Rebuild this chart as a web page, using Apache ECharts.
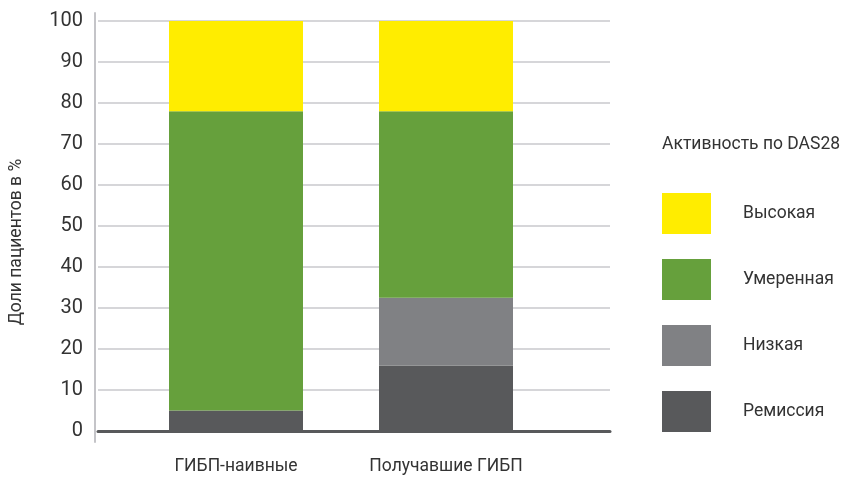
<!DOCTYPE html>
<html>
<head>
<meta charset="utf-8">
<script src="https://cdn.jsdelivr.net/npm/echarts@6/dist/echarts.min.js"></script>
<style>
  html, body { margin: 0; padding: 0; background: #fff; }
  #chart { width: 848px; height: 478px; }
</style>
</head>
<body>
<div id="chart"></div>
<script>
const categories = ['ГИБП-наивные', 'Получавшие ГИБП']
const remission = [5, 16]
const low = [0, 16.5]
const moderate = [73, 45.5]
const high = [22, 22]
const legendOrder = ['Высокая', 'Умеренная', 'Низкая', 'Ремиссия']

const font = 'Roboto, "Noto Sans", sans-serif'
const myChart = echarts.init(document.getElementById('chart'))

function bar(name, data, color) {
  return {
    name: name,
    type: 'bar',
    stack: 'das',
    xAxisIndex: 2,
    yAxisIndex: 2,
    barWidth: 134,
    itemStyle: { color: color },
    data: data
  }
}

myChart.setOption({
  animation: false,
  textStyle: { fontFamily: font },
  title: {
    text: 'Активность по DAS28',
    left: 657,
    top: 131,
    textStyle: { fontSize: 17.5, fontWeight: 'normal', color: '#333', fontFamily: font }
  },
  legend: {
    data: legendOrder,
    orient: 'vertical',
    left: 657,
    top: 188,
    icon: 'rect',
    itemWidth: 49,
    itemHeight: 41,
    itemGap: 25,
    selectedMode: false,
    textStyle: { fontSize: 17.5, color: '#333', padding: [0, 0, 0, 27], fontFamily: font }
  },
  grid: [
    // axis line only (extends a bit beyond 0..100)
    { left: 95, top: 13, width: 513, height: 429 },
    // value grid: labels, gridlines, x axis line
    { left: 90, top: 21, width: 520, height: 410 },
    // bars
    { left: 131, top: 21, width: 420, height: 410 }
  ],
  xAxis: [
    { gridIndex: 0, type: 'value', show: false },
    {
      gridIndex: 1, type: 'category', data: [''],
      axisLine: { lineStyle: { color: '#58595b', width: 3 } },
      axisTick: { show: false },
      axisLabel: { show: false }
    },
    {
      gridIndex: 2, type: 'category', data: categories,
      axisLine: { show: false },
      axisTick: { show: false },
      axisLabel: { fontSize: 17.5, color: '#333', margin: 27, fontFamily: font }
    }
  ],
  yAxis: [
    {
      gridIndex: 0, type: 'value', min: 0, max: 1,
      axisLine: { show: true, lineStyle: { color: '#c4c4c8', width: 2 } },
      axisTick: { show: false },
      axisLabel: { show: false },
      splitLine: { show: false }
    },
    {
      gridIndex: 1, type: 'value', min: 0, max: 100, interval: 10,
      name: 'Доли пациентов в %',
      nameLocation: 'middle',
      nameGap: 72,
      nameTextStyle: { fontSize: 17.5, color: '#333', fontFamily: font, padding: [0, 32, 0, 0] },
      axisLine: { show: false },
      axisTick: { show: false },
      axisLabel: { fontSize: 20, color: '#333', margin: 15, fontFamily: font },
      splitLine: { lineStyle: { color: '#c8c8cc', width: 1.5 } }
    },
    { gridIndex: 2, type: 'value', min: 0, max: 100, show: false }
  ],
  series: [
    bar('Ремиссия', remission, '#58595b'),
    bar('Низкая', low, '#808184'),
    bar('Умеренная', moderate, '#66a03c'),
    bar('Высокая', high, '#ffed00')
  ]
})
</script>
</body>
</html>
